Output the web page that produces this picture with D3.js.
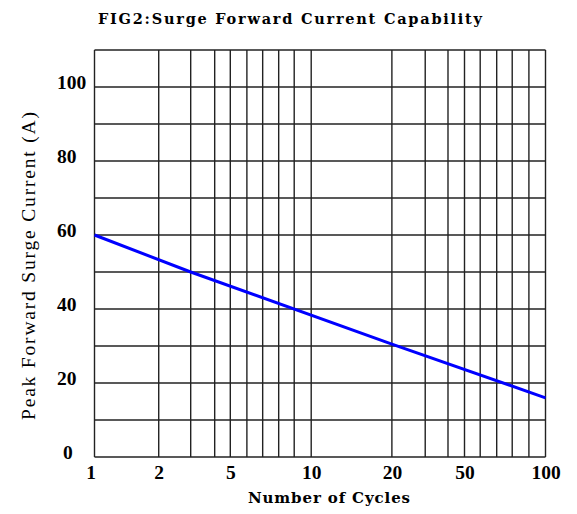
<!DOCTYPE html>
<html>
<head>
<meta charset="utf-8">
<script src="https://cdn.jsdelivr.net/npm/d3@7"></script>
<style>
    body { margin: 0; background: #fff; }
</style>
</head>
<body>
<svg id="Chart"></svg>
<script>
// values
const cycles = [1, 3, 20, 100];
const surgeCurrent = [60, 50, 30.5, 16];

const xGridValues = [1, 2, 3, 4, 5, 6, 7, 8, 9, 10, 20, 30, 40, 50, 60, 70, 80, 90, 100];
const xTickLabels = [1, 2, 5, 10, 20, 50, 100];
const yGridValues = [0, 10, 20, 30, 40, 50, 60, 70, 80, 90, 100, 110];
const yTickLabels = [0, 20, 40, 60, 80, 100];

const titleText = 'FIG2:Surge Forward Current Capability';
const xLabelText = 'Number of Cycles';
const yLabelText = 'Peak Forward Surge Current (A)';

function getConfig() {
    let width = 577;
    let height = 514;
    let margin = {
        top: 50,
        bottom: 57,
        left: 94.5,
        right: 31.5
    };
    let bodyHeight = height - margin.top - margin.bottom;
    let bodyWidth = width - margin.left - margin.right;
    // the printed "log" axis is hand drawn, so gridlines sit at these fractions of the width
    let xGridFractions = [0, 0.1424, 0.2133, 0.2665, 0.3011, 0.3379, 0.3729, 0.4084, 0.4428, 0.4805,
        0.6594, 0.7333, 0.7838, 0.8204, 0.8552, 0.8918, 0.9262, 0.9632, 1];

    let container = d3.select('#Chart')
        .attr('width', width)
        .attr('height', height);

    return { width, height, margin, bodyHeight, bodyWidth, xGridFractions, container };
}

function getScales(config) {
    let { bodyWidth, bodyHeight, xGridFractions } = config;

    let xScale = d3.scaleLinear()
        .domain(xGridValues)
        .range(xGridFractions.map(f => f * bodyWidth));

    let yScale = d3.scaleLinear()
        .domain([0, 110])
        .range([bodyHeight, 0]);

    return { xScale, yScale };
}

function drawGrid(body, scales, config) {
    let { xScale, yScale } = scales;
    let { bodyWidth, bodyHeight } = config;

    body.selectAll('.vgrid').data(xGridValues)
        .enter().append('line')
        .attr('x1', d => xScale(d))
        .attr('x2', d => xScale(d))
        .attr('y1', 0)
        .attr('y2', bodyHeight)
        .attr('stroke', '#222')
        .attr('stroke-width', 1.4);

    body.selectAll('.hgrid').data(yGridValues)
        .enter().append('line')
        .attr('x1', 0)
        .attr('x2', bodyWidth)
        .attr('y1', d => yScale(d))
        .attr('y2', d => yScale(d))
        .attr('stroke', '#222')
        .attr('stroke-width', 1.4);
}

function drawCurve(body, scales) {
    let { xScale, yScale } = scales;
    let points = cycles.map((c, i) => [c, surgeCurrent[i]]);

    let line = d3.line()
        .x(d => xScale(d[0]))
        .y(d => yScale(d[1]));

    body.append('path')
        .datum(points)
        .attr('d', line)
        .attr('fill', 'none')
        .attr('stroke', '#0000ff')
        .attr('stroke-width', 3);
}

function drawAxes(body, scales, config) {
    let { xScale, yScale } = scales;
    let { bodyHeight } = config;

    let axisX = d3.axisBottom(xScale)
        .tickValues(xTickLabels)
        .tickSize(0)
        .tickPadding(8);
    let gx = body.append('g')
        .attr('transform', `translate(0,${bodyHeight})`)
        .call(axisX);

    let axisY = d3.axisLeft(yScale)
        .tickValues(yTickLabels)
        .tickSize(0)
        .tickPadding(37.5);
    let gy = body.append('g').call(axisY);

    [gx, gy].forEach(g => {
        g.select('.domain').remove();
        g.selectAll('text')
            .attr('fill', '#000')
            .style('font-family', '"Liberation Serif", "Times New Roman", serif')
            .style('font-weight', 'bold')
            .style('font-size', '19.5px');
    });
    gx.selectAll('text').attr('dx', d => d === 1 ? -4 : 0);
    // the original sets its y labels flush left and a little above the line, the single zero nudged in
    gy.selectAll('text')
        .attr('text-anchor', 'start')
        .attr('dx', d => d < 10 ? 6 : 0)
        .attr('dy', '0.06em');
}

function drawLabels(config) {
    let { container } = config;
    let serif = '"Liberation Serif", "Times New Roman", serif';
    let wideSerif = '"DejaVu Serif", serif';

    // widths stretched to match the wide, typewriter-like lettering of the original
    container.append('text')
        .attr('x', 98)
        .attr('y', 23.5)
        .attr('textLength', 384)
        .attr('lengthAdjust', 'spacing')
        .style('font-family', wideSerif)
        .style('font-weight', 'bold')
        .style('font-size', '14.5px')
        .text(titleText);

    container.append('text')
        .attr('x', 248)
        .attr('y', 503)
        .attr('textLength', 162)
        .attr('lengthAdjust', 'spacing')
        .style('font-family', wideSerif)
        .style('font-weight', 'bold')
        .style('font-size', '15px')
        .text(xLabelText);

    container.append('text')
        .attr('transform', 'translate(34.5,420) rotate(-90)')
        .attr('textLength', 308)
        .attr('lengthAdjust', 'spacing')
        .style('font-family', serif)
        .style('font-size', '19.5px')
        .text(yLabelText);
}

function drawChart() {
    let config = getConfig();
    let scales = getScales(config);
    let body = config.container.append('g')
        .attr('transform', `translate(${config.margin.left},${config.margin.top})`);
    drawGrid(body, scales, config);
    drawCurve(body, scales);
    drawAxes(body, scales, config);
    drawLabels(config);
}

drawChart();
</script>
</body>
</html>
